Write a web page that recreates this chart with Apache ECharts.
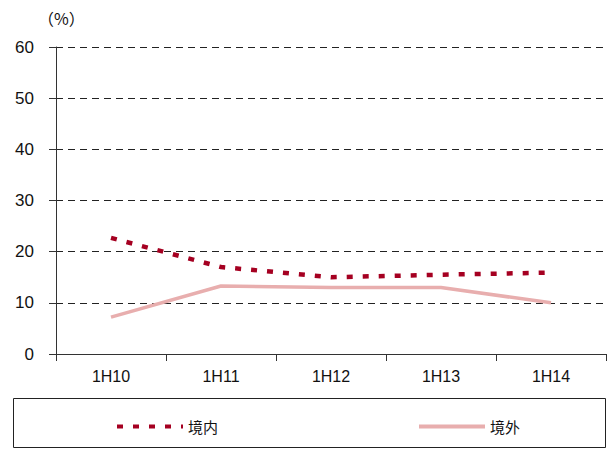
<!DOCTYPE html>
<html>
<head>
<meta charset="utf-8">
<script src="https://cdn.jsdelivr.net/npm/echarts@6/dist/echarts.min.js"></script>
<style>
  html, body { margin: 0; padding: 0; background: #fff; }
  #chart { width: 614px; height: 450px; }
</style>
</head>
<body>
<div id="chart"></div>
<script>
var categories = ['1H10', '1H11', '1H12', '1H13', '1H14'];
var domestic = [22.7, 17.0, 15.0, 15.5, 15.9];
var overseas = [7.2, 13.3, 13.0, 13.0, 10.0];
var yTicks = [0, 10, 20, 30, 40, 50, 60];

var tickFont = '"Liberation Sans Narrow", "Liberation Sans", sans-serif';
var cjkFont = '"Noto Sans CJK SC", sans-serif';

var chart = echarts.init(document.getElementById('chart'), null, { renderer: 'svg' });
chart.setOption({
  animation: false,
  grid: { left: 56, right: 8, top: 47, bottom: 96 },
  graphic: [
    {
      type: 'rect',
      shape: { x: 13.5, y: 398.5, width: 592, height: 49 },
      style: { fill: 'none', stroke: '#222', lineWidth: 1 }
    },
    {
      type: 'text',
      left: 38,
      top: 10,
      style: { text: '（%）', fontFamily: cjkFont, fontSize: 16, fill: '#111' }
    }
  ],
  legend: {
    show: true,
    orient: 'horizontal',
    left: 110,
    top: 414,
    itemWidth: 66,
    itemHeight: 14,
    itemGap: 199,
    itemStyle: { opacity: 0 },
    lineStyle: { width: 4 },
    textStyle: { fontFamily: cjkFont, fontSize: 15, color: '#111' },
    data: ['境内', '境外']
  },
  xAxis: {
    type: 'category',
    data: categories,
    boundaryGap: true,
    axisLine: { lineStyle: { color: '#333', width: 1 } },
    axisTick: { show: true, length: 7, alignWithLabel: false, lineStyle: { color: '#333' } },
    axisLabel: { color: '#111', fontSize: 16, fontFamily: tickFont, margin: 14 }
  },
  yAxis: {
    type: 'value',
    min: yTicks[0],
    max: yTicks[yTicks.length - 1],
    interval: 10,
    axisLine: { show: true, lineStyle: { color: '#333', width: 1 } },
    axisTick: { show: true, length: 7, lineStyle: { color: '#333' } },
    axisLabel: { color: '#111', fontSize: 17, fontFamily: tickFont, margin: 22 },
    splitLine: { show: true, lineStyle: { color: '#222', type: [7, 5], width: 1 } }
  },
  series: [
    {
      name: '境内',
      type: 'line',
      data: domestic,
      symbol: 'none',
      lineStyle: { color: '#A50021', width: 4.5, type: [6, 10] },
      itemStyle: { color: '#A50021' }
    },
    {
      name: '境外',
      type: 'line',
      data: overseas,
      symbol: 'none',
      lineStyle: { color: '#E8AEAE', width: 3.5, type: 'solid' },
      itemStyle: { color: '#E8AEAE' }
    }
  ]
});
</script>
</body>
</html>
